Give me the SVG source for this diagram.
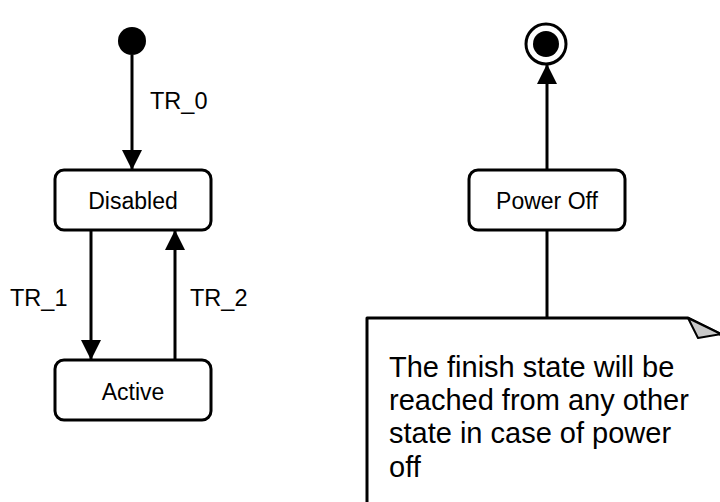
<svg xmlns="http://www.w3.org/2000/svg" width="720" height="502" viewBox="0 0 720 502">
<style>
.st{fill:#fff;stroke:#000;stroke-width:3}
.lbl{font-family:"Liberation Sans",Arial,sans-serif;font-size:23.5px;fill:#000}
.box{font-family:"Liberation Sans",Arial,sans-serif;font-size:23px;fill:#000;text-anchor:middle}
.ln{stroke:#000;stroke-width:3;fill:none}
.note{font-family:"Liberation Sans",Arial,sans-serif;font-size:29px;fill:#000}
</style>
<defs>
<marker id="ah" viewBox="0 0 20 20" refX="19" refY="10" markerWidth="20" markerHeight="20" markerUnits="userSpaceOnUse" orient="auto">
<path d="M0,0 L20,10 L0,20 Z" fill="#000"/>
</marker>
</defs>
<rect width="720" height="502" fill="#fff"/>
<g id="initial">
<circle cx="132" cy="41" r="14" fill="#000"/>
</g>
<g id="final">
<circle cx="546" cy="44" r="20" fill="#fff" stroke="#000" stroke-width="3"/>
<circle cx="546" cy="44" r="13" fill="#000"/>
</g>
<g id="disabled">
<rect class="st" x="55" y="170" width="156" height="60" rx="9"/>
<text class="box" x="133" y="209">Disabled</text>
</g>
<g id="active">
<rect class="st" x="55" y="360" width="156" height="60" rx="9"/>
<text class="box" x="133" y="400">Active</text>
</g>
<g id="poweroff">
<rect class="st" x="469" y="170" width="156" height="60" rx="9"/>
<text class="box" x="547" y="209">Power Off</text>
</g>
<g id="connectors">
<line class="ln" x1="132" y1="55" x2="132" y2="169" marker-end="url(#ah)"/>
<line class="ln" x1="91" y1="230" x2="91" y2="359" marker-end="url(#ah)"/>
<line class="ln" x1="175" y1="360" x2="175" y2="231" marker-end="url(#ah)"/>
<line class="ln" x1="547" y1="170" x2="547" y2="65" marker-end="url(#ah)"/>
<line class="ln" x1="547" y1="230" x2="547" y2="318"/>
<text class="lbl" x="150" y="109">TR_0</text>
<text class="lbl" x="10" y="306">TR_1</text>
<text class="lbl" x="190" y="306">TR_2</text>
</g>
<g id="note">
<path d="M367,506 L367,318 L688,318 L724,336 L724,506 Z" fill="#fff" stroke="#000" stroke-width="3" stroke-linejoin="round"/>
<path d="M688,318 L698,338 L721,334 Z" fill="#c8c8c8" stroke="#000" stroke-width="2" stroke-linejoin="round"/>
<text class="note" x="389" y="377">The finish state will be</text>
<text class="note" x="389" y="410">reached from any other</text>
<text class="note" x="389" y="443">state in case of power</text>
<text class="note" x="389" y="477">off</text>
</g>
</svg>
